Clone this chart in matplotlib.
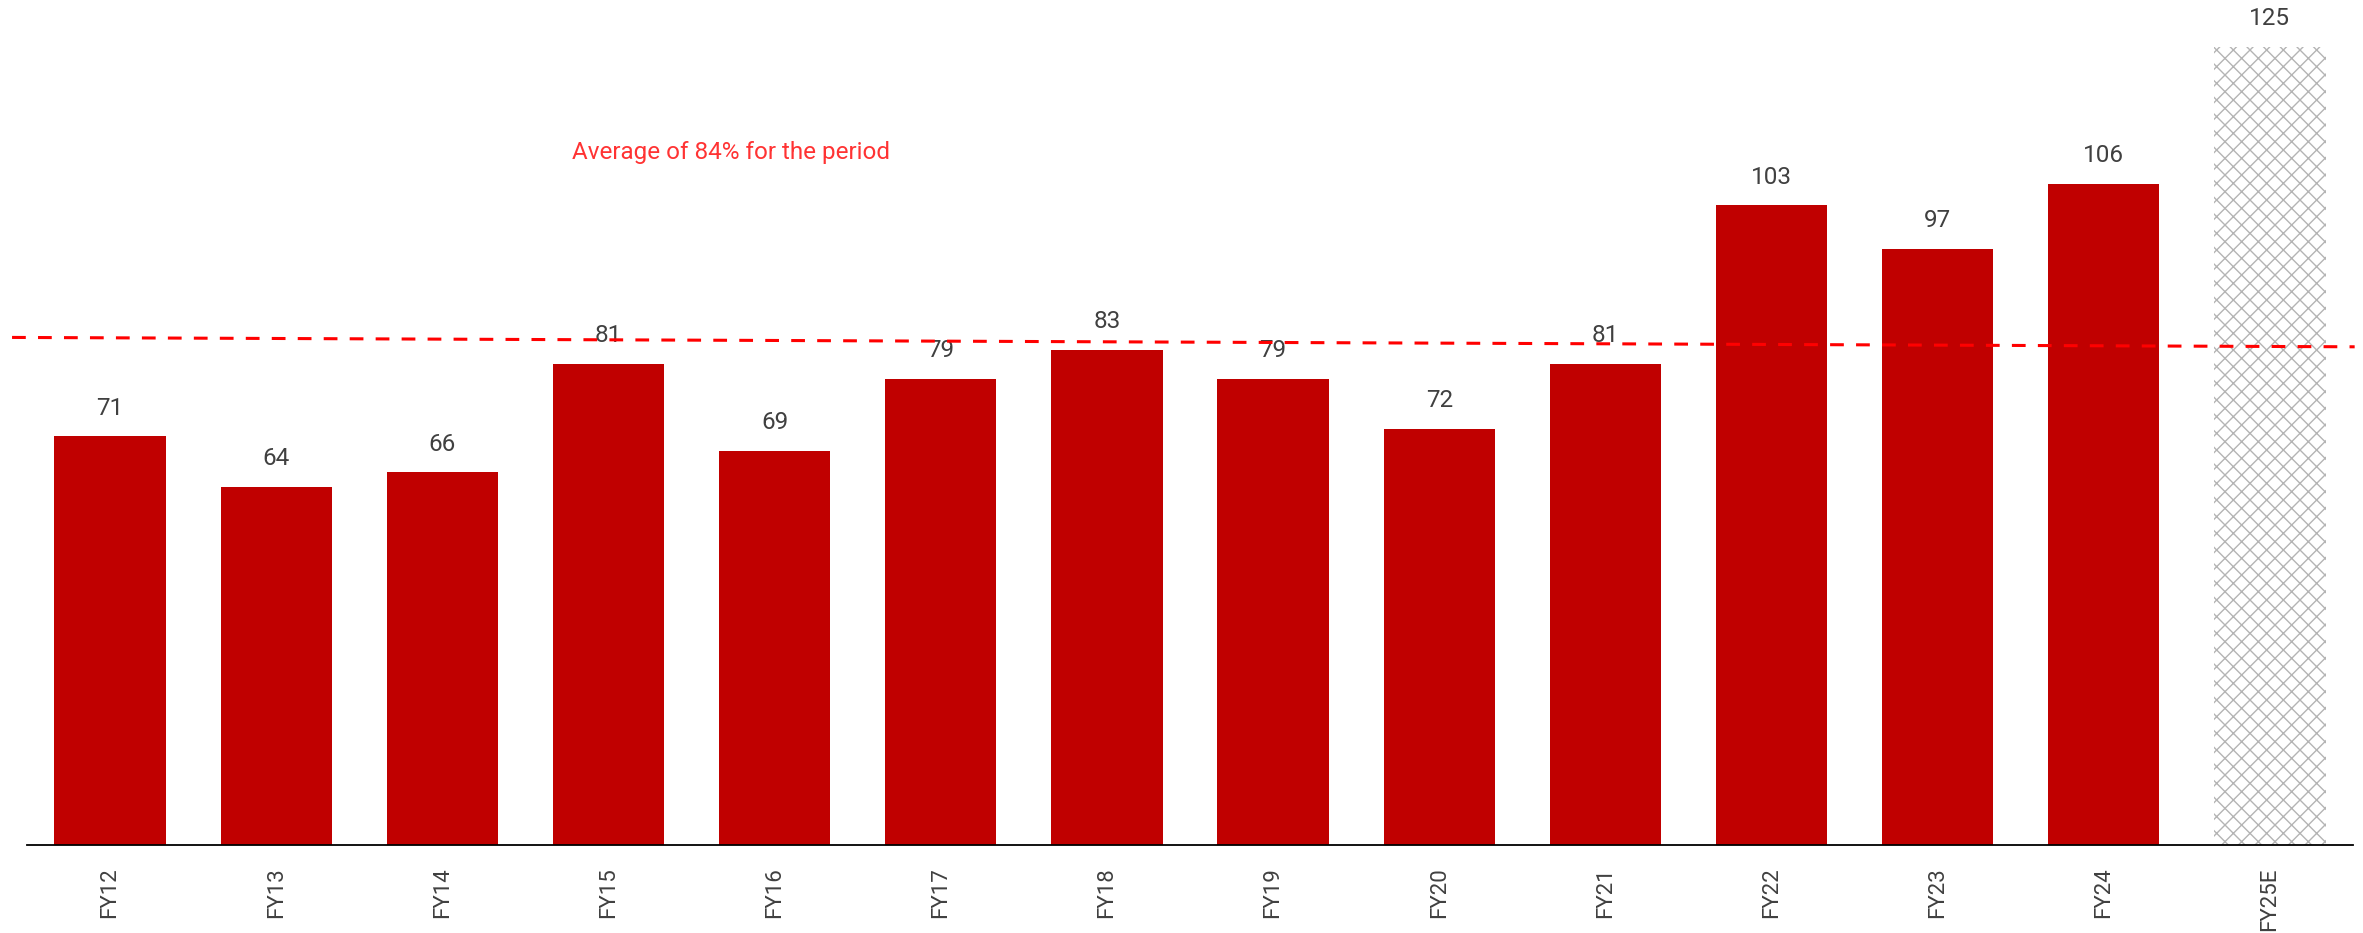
import matplotlib.pyplot as plt
import numpy as np

# data
years = ["FY12", "FY13", "FY14", "FY15", "FY16", "FY17", "FY18",
         "FY19", "FY20", "FY21", "FY22", "FY23", "FY24", "FY25E"]
values = [71, 64, 66, 81, 69, 79, 83, 79, 72, 81, 103, 97, 106, 125]
estimate = [False] * 13 + [True]
avg_start = 84.7
avg_end = 83.4
avg_text = "Average of 84% for the period"

plt.rcParams['font.family'] = ['Roboto', 'DejaVu Sans']
plt.rcParams['hatch.linewidth'] = 1.0

fig = plt.figure(figsize=(23.63, 9.33), dpi=100)
ax = fig.add_axes([27 / 2363, 1 - 845 / 933, 2326 / 2363, 845 / 933])

x = np.arange(len(years))
for xi, v, est in zip(x, values, estimate):
    if est:
        ax.bar(xi, v, width=0.67, color='white', edgecolor='#B4B4B4',
               hatch='xx', linewidth=0, zorder=2)
    else:
        ax.bar(xi, v, width=0.67, color='#C00000', linewidth=0, zorder=2)
    ax.annotate(str(v), (xi, v), xytext=(0, 12), textcoords='offset points',
                ha='center', va='bottom', fontsize=17.5, color='#404040')

# average line (runs a bit past the axes on the left)
ax.plot([-0.59, 13.51], [avg_start, avg_end], color='#FF0000', lw=2.2,
        ls=(0, (4.5, 4)), clip_on=False, zorder=3)
ax.text(2.78, 110.3, avg_text, color='#FF3333', fontsize=17.5,
        ha='left', va='center')

ax.set_xlim(-0.5, 13.5)
ax.set_ylim(14.3, 131.5)
ax.set_xticks(x)
ax.set_xticklabels(years, rotation=90, fontsize=16, color='#404040')
ax.tick_params(axis='x', length=0, pad=16)
ax.set_yticks([])
for s in ['top', 'right', 'left']:
    ax.spines[s].set_visible(False)
ax.spines['bottom'].set_color('#000000')
ax.spines['bottom'].set_linewidth(1.3)

fig.savefig("out.png", dpi=100)
